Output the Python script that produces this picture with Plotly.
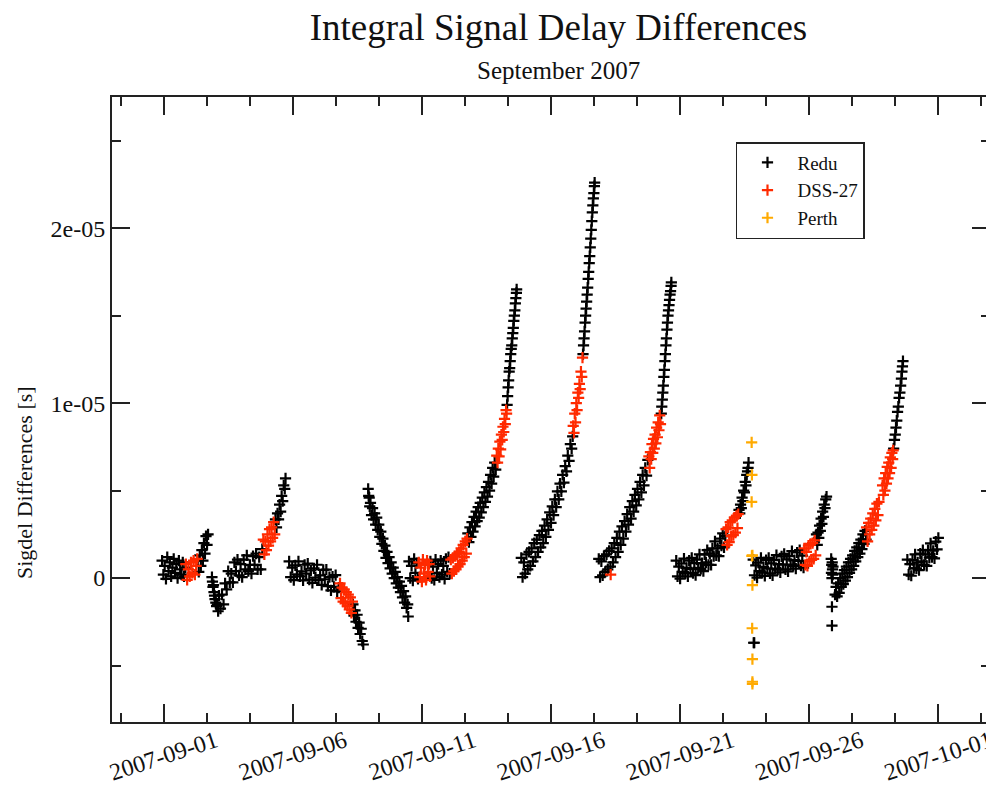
import pandas as pd
import plotly.graph_objects as go

# Time: days since 2007-09-01 00:00 ; values: signal delay difference in microseconds
redu_days = [
    -0.06, -0.01, 0.04, 0.09, 0.14, 0.19, 0.24, 0.29, 0.34, 0.39, 0.44, 0.49, 0.54, 0.59, 0.64, 0.69, 0.74, 0.79, 0.84,
    1.32, 1.36, 1.40, 1.44, 1.48, 1.52, 1.56, 1.60, 1.64, 1.68, 1.72,
    1.87, 1.89, 1.91, 1.93, 1.95, 1.97, 1.99, 2.02, 2.05, 2.08, 2.11,
    2.14, 2.20, 2.26, 2.32, 2.38, 2.44, 2.50, 2.56, 2.62, 2.68, 2.74, 2.80, 2.86, 2.92, 2.98, 3.04, 3.10, 3.16, 3.22, 3.28, 3.34, 3.40, 3.46, 3.52, 3.58, 3.64, 3.70, 3.76, 3.82,
    4.33, 4.37, 4.41, 4.45, 4.49, 4.53, 4.57, 4.61, 4.65, 4.69, 4.72,
    4.86, 4.92, 4.98, 5.04, 5.10, 5.16, 5.22, 5.28, 5.34, 5.40, 5.46, 5.52, 5.58, 5.64, 5.70, 5.76, 5.82, 5.88, 5.94, 6.00, 6.06, 6.12, 6.18, 6.24, 6.30, 6.36, 6.42, 6.48, 6.54, 6.60, 6.66, 6.72, 6.78,
    7.33, 7.37, 7.41, 7.45, 7.49, 7.53, 7.57, 7.61, 7.65, 7.69, 7.73,
    7.92, 7.94, 7.96, 7.98, 8.01, 8.05, 8.09, 8.13, 8.17, 8.21, 8.25, 8.29, 8.33, 8.37, 8.41, 8.45, 8.49, 8.53, 8.57, 8.61, 8.65, 8.69, 8.73, 8.77, 8.81, 8.85, 8.89, 8.93, 8.97, 9.01, 9.05, 9.09, 9.13, 9.17, 9.21, 9.25, 9.29, 9.33, 9.37, 9.41, 9.45, 9.47,
    9.50, 9.55, 9.60, 9.65, 9.70, 9.75, 9.80, 9.85,
    10.33, 10.38, 10.43, 10.48, 10.53, 10.58, 10.63, 10.68, 10.73, 10.78, 10.83, 10.88, 10.93, 10.98, 11.03, 11.08,
    11.78, 11.82, 11.86, 11.90, 11.94, 11.98, 12.02, 12.06, 12.10, 12.14, 12.18, 12.22, 12.26, 12.30, 12.34, 12.38, 12.42, 12.46, 12.50, 12.54, 12.58, 12.62, 12.66, 12.70, 12.74, 12.78, 12.82, 12.86,
    13.30, 13.32, 13.34, 13.36, 13.38, 13.40, 13.42, 13.44, 13.46, 13.48, 13.50, 13.52, 13.54, 13.56, 13.58, 13.60, 13.62, 13.64, 13.66, 13.67,
    13.85, 13.90, 13.95, 14.00, 14.05, 14.10, 14.15, 14.20, 14.25, 14.30, 14.35, 14.40, 14.45, 14.50, 14.55, 14.60, 14.65, 14.70, 14.75, 14.80, 14.85, 14.90, 14.95, 15.00, 15.05, 15.10, 15.15, 15.20, 15.25, 15.30, 15.35, 15.40, 15.45, 15.50, 15.55, 15.60, 15.65, 15.70, 15.75, 15.80, 15.84,
    16.24, 16.26, 16.28, 16.30, 16.32, 16.34, 16.36, 16.38, 16.40, 16.42, 16.44, 16.46, 16.48, 16.50, 16.52, 16.54, 16.56, 16.58, 16.60, 16.62, 16.64, 16.66, 16.68, 16.69,
    16.85, 16.90, 16.95, 17.00, 17.05, 17.10, 17.15, 17.20, 17.25, 17.30, 17.35, 17.40, 17.45, 17.50, 17.55, 17.60, 17.65, 17.70, 17.75, 17.80, 17.85, 17.90, 17.95, 18.00, 18.05, 18.10, 18.15, 18.20, 18.25, 18.30, 18.35, 18.40, 18.45, 18.50, 18.55, 18.60, 18.65, 18.70, 18.75,
    19.27, 19.29, 19.31, 19.33, 19.35, 19.37, 19.39, 19.41, 19.43, 19.45, 19.47, 19.49, 19.51, 19.53, 19.55, 19.57, 19.59, 19.61, 19.63, 19.65, 19.66,
    19.85, 19.90, 19.95, 20.00, 20.05, 20.10, 20.15, 20.20, 20.25, 20.30, 20.35, 20.40, 20.45, 20.50, 20.55, 20.60, 20.65, 20.70, 20.75, 20.80, 20.85, 20.90, 20.95, 21.00, 21.05, 21.10, 21.15, 21.20, 21.25, 21.30, 21.35, 21.40, 21.45, 21.50, 21.55, 21.60, 21.65, 21.70, 21.75,
    22.28, 22.31, 22.34, 22.37, 22.40, 22.43, 22.46, 22.49, 22.52, 22.55, 22.58, 22.61, 22.63, 22.65,
    22.85, 22.87,
    22.83, 22.88, 22.93, 22.98, 23.03, 23.08, 23.13, 23.18, 23.23, 23.28, 23.33, 23.38, 23.43, 23.48, 23.53, 23.58, 23.63, 23.68, 23.73, 23.78, 23.83, 23.88, 23.93, 23.98, 24.03, 24.08, 24.13, 24.18, 24.23, 24.28, 24.33, 24.38, 24.43, 24.48, 24.53, 24.58, 24.63, 24.68, 24.73, 24.78,
    25.28, 25.31, 25.34, 25.37, 25.40, 25.43, 25.46, 25.49, 25.52, 25.55, 25.58, 25.61, 25.64, 25.67,
    25.85, 25.86, 25.87, 25.88, 25.89, 25.90, 25.91, 25.92, 25.88, 25.88,
    26.00, 26.04, 26.08, 26.12, 26.16, 26.20, 26.24, 26.28, 26.32, 26.36, 26.40, 26.44, 26.48, 26.52, 26.56, 26.60, 26.64, 26.68, 26.72, 26.76, 26.80, 26.84, 26.88, 26.92, 26.96, 27.00, 27.04, 27.08, 27.12, 27.16, 27.20,
    28.27, 28.30, 28.33, 28.36, 28.39, 28.42, 28.45, 28.48, 28.51, 28.54, 28.57, 28.59, 28.61, 28.63,
    28.80, 28.85, 28.90, 28.95, 29.00, 29.05, 29.10, 29.15, 29.20, 29.25, 29.30, 29.35, 29.40, 29.45, 29.50, 29.55, 29.60, 29.65, 29.70, 29.75, 29.80, 29.85, 29.90, 29.95, 30.00,
]
redu_us = [
    1.0, 0.2, 0.7, -0.05, 1.2, 0.4, 0.9, 0.1, 0.6, 1.1, 0.3, 0.8, 0.0, 1.0, 0.5, 0.2, 0.9, 0.1, 0.6,
    1.0, 0.35, 1.3, 0.7, 1.6, 1.0, 2.0, 1.4, 2.4, 1.9, 2.5,
    0.05, -0.2, -0.5, -0.4, -0.8, -1.0, -1.2, -1.4, -1.6, -1.5, -1.9,
    -1.0, -1.75, -0.95, -1.5, -0.3, -0.65, 0.4, -0.25, 0.25, -0.25, 0.9, 0.4, 1.05, 0.15, 0.8, 0.05, 1.05, 0.5, 1.3, 0.4, 0.75, 0.25, 1.25, 0.75, 1.4, 0.5, 1.2, 0.5, 1.65,
    3.35, 2.9, 3.7, 3.35, 4.2, 3.8, 4.7, 4.4, 5.3, 5.1, 5.7,
    0.95, 0.05, 0.6, -0.12, 0.72, 0.21, 0.95, 0.09, 0.38, -0.13, 0.76, 0.25, 0.83, -0.09, 0.44, -0.28, 0.55, 0.03, 0.76, -0.11, 0.15, -0.39, 0.47, -0.07, 0.48, -0.46, 0.05, -0.7, 0.08, -0.5, 0.17, -0.76, -0.55,
    -1.5, -2.15, -1.85, -2.5, -2.1, -2.85, -2.55, -3.2, -2.9, -3.6, -3.8,
    5.1, 4.7, 4.6, 4.1, 4.3, 3.6, 4.0, 3.35, 3.7, 3.05, 3.45, 2.75, 3.05, 2.35, 2.65, 1.95, 2.25, 1.55, 1.85, 1.15, 1.5, 0.85, 1.2, 0.55, 0.9, 0.25, 0.6, 0.0, 0.35, -0.3, 0.05, -0.55, -0.2, -0.8, -0.45, -1.1, -0.75, -1.4, -1.05, -1.7, -1.5, -2.2,
    0.95, 0.0, 0.7, -0.15, 1.1, 0.3, 0.85, -0.05,
    0.95, 0.0, 0.65, -0.1, 1.05, 0.3, 0.8, 0.05, 1.0, 0.2, 0.7, -0.05, 1.1, 0.35, 1.2, 0.25,
    2.55, 2.05, 2.9, 2.35, 3.2, 2.65, 3.5, 2.95, 3.8, 3.25, 4.05, 3.45, 4.3, 3.75, 4.6, 4.05, 4.9, 4.35, 5.2, 4.65, 5.5, 5.0, 5.9, 5.4, 6.3, 5.8, 6.6, 6.2,
    9.9, 10.4, 10.9, 11.3, 11.8, 12.0, 12.4, 12.8, 13.1, 13.3, 13.7, 14.0, 14.3, 14.7, 15.0, 15.3, 15.7, 16.0, 16.3, 16.5,
    1.15, 0.05, 0.9, 0.25, 1.35, 0.5, 1.5, 0.7, 1.7, 0.95, 2.0, 1.2, 2.2, 1.5, 2.45, 1.75, 2.7, 2.0, 3.0, 2.35, 3.35, 2.75, 3.75, 3.15, 4.1, 3.6, 4.5, 4.05, 4.95, 4.5, 5.4, 4.95, 5.9, 5.45, 6.4, 6.1, 7.0, 6.7, 7.65, 7.4, 8.1,
    12.8, 13.3, 13.7, 14.1, 14.6, 15.0, 15.4, 15.8, 16.2, 16.6, 17.1, 17.5, 18.0, 18.4, 18.9, 19.4, 19.9, 20.4, 20.9, 21.3, 21.7, 22.0, 22.4, 22.6,
    1.1, 0.05, 0.95, 0.15, 1.25, 0.35, 1.35, 0.5, 1.55, 0.65, 1.7, 0.9, 2.0, 1.2, 2.3, 1.5, 2.65, 1.9, 2.95, 2.25, 3.25, 2.65, 3.65, 3.05, 4.05, 3.4, 4.4, 3.8, 4.75, 4.15, 5.1, 4.5, 5.5, 4.9, 5.9, 5.3, 6.3, 5.85, 6.75,
    9.4, 9.8, 10.2, 10.6, 11.0, 11.5, 11.9, 12.4, 12.8, 13.3, 13.7, 14.2, 14.6, 15.0, 15.3, 15.6, 15.9, 16.2, 16.4, 16.7, 16.9,
    1.0, 0.1, 0.65, -0.03, 0.83, 0.35, 1.11, 0.27, 0.58, 0.09, 1.0, 0.52, 1.15, 0.28, 0.85, 0.17, 1.05, 0.58, 1.35, 0.52, 0.85, 0.4, 1.35, 0.9, 1.6, 0.75, 1.4, 0.75, 1.7, 1.25, 2.1, 1.3, 1.7, 1.25, 2.25, 1.85, 2.55, 1.75, 2.4,
    3.9, 3.7, 4.2, 4.0, 4.6, 4.4, 5.0, 4.9, 5.5, 5.3, 5.9, 6.1, 6.3, 6.6,
    -3.7, -3.7,
    1.05, 0.16, 0.72, 0.02, 0.88, 0.39, 1.15, 0.31, 0.62, 0.12, 1.03, 0.54, 1.15, 0.27, 0.84, 0.15, 1.02, 0.54, 1.31, 0.48, 0.8, 0.32, 1.24, 0.76, 1.38, 0.5, 1.07, 0.38, 1.25, 0.77, 1.54, 0.7, 1.02, 0.54, 1.46, 0.98, 1.6, 0.71, 1.28, 0.6,
    2.5, 1.9, 2.6, 2.3, 3.0, 2.7, 3.4, 3.1, 3.8, 3.5, 4.2, 4.0, 4.5, 4.65,
    1.1, 0.3, 0.75, 0.0, 0.9, 0.5, 0.2, 0.65, -1.64, -2.72,
    -0.95, -0.5, -1.05, -0.3, -0.85, 0.0, -0.5, 0.25, -0.35, 0.45, -0.15, 0.65, 0.05, 0.9, 0.3, 1.1, 0.5, 1.3, 0.7, 1.55, 0.95, 1.75, 1.2, 2.0, 1.4, 2.2, 1.65, 2.5, 1.95, 2.7, 2.2,
    7.4, 7.9, 8.2, 8.6, 9.0, 9.5, 9.8, 10.3, 10.6, 11.0, 11.4, 11.8, 12.1, 12.4,
    1.05, 0.2, 0.79, 0.13, 1.02, 0.56, 1.35, 0.55, 0.9, 0.45, 1.4, 0.95, 1.6, 0.75, 1.35, 0.7, 1.6, 1.17, 1.98, 1.2, 1.56, 1.12, 2.08, 1.64, 2.3,
]

dss27_days = [
    0.86, 0.91, 0.96, 1.01, 1.06, 1.11, 1.16, 1.21, 1.26, 1.30,
    3.86, 3.90, 3.94, 3.98, 4.02, 4.06, 4.10, 4.14, 4.18, 4.22, 4.26, 4.30,
    6.83, 6.87, 6.91, 6.95, 6.99, 7.03, 7.07, 7.11, 7.15, 7.19, 7.23, 7.27, 7.31,
    9.88, 9.92, 9.96, 10.00, 10.04, 10.08, 10.12, 10.16, 10.20, 10.24, 10.28, 10.31,
    11.12, 11.16, 11.20, 11.24, 11.28, 11.32, 11.36, 11.40, 11.44, 11.48, 11.52, 11.56, 11.60, 11.64, 11.68, 11.72, 11.75,
    12.90, 12.93, 12.96, 12.99, 13.02, 13.05, 13.08, 13.11, 13.14, 13.17, 13.20, 13.23, 13.26, 13.28,
    15.86, 15.89, 15.92, 15.95, 15.98, 16.01, 16.04, 16.07, 16.10, 16.13, 16.16, 16.19, 16.22,
    17.31,
    18.79, 18.82, 18.85, 18.88, 18.91, 18.94, 18.97, 19.00, 19.03, 19.06, 19.09, 19.12, 19.15, 19.18, 19.21, 19.24,
    21.78, 21.82, 21.86, 21.90, 21.94, 21.98, 22.02, 22.06, 22.10, 22.14, 22.18, 22.22, 22.25,
    24.81, 24.85, 24.89, 24.93, 24.97, 25.01, 25.05, 25.09, 25.13, 25.17, 25.21, 25.25,
    27.22, 27.26, 27.30, 27.34, 27.38, 27.42, 27.46, 27.50, 27.54, 27.58, 27.62, 27.66, 27.70,
    27.84, 27.87, 27.90, 27.93, 27.96, 27.99, 28.02, 28.05, 28.08, 28.11, 28.14, 28.17, 28.20, 28.23, 28.25,
]
dss27_us = [
    0.8, -0.1, 0.5, 0.1, 0.9, 0.3, 1.0, 0.2, 0.7, 1.1,
    2.2, 1.35, 2.1, 1.6, 2.5, 1.85, 2.8, 2.1, 2.9, 2.3, 3.2, 2.5,
    -0.3, -1.15, -0.55, -1.35, -0.65, -1.45, -0.8, -1.6, -0.95, -1.8, -1.1, -2.0, -1.35,
    0.9, 0.05, 0.6, -0.2, 1.05, 0.25, 0.75, -0.1, 1.0, 0.35, 0.8, 0.1,
    1.05, 0.25, 1.15, 0.4, 1.25, 0.5, 1.35, 0.65, 1.5, 0.8, 1.7, 1.0, 1.9, 1.2, 2.1, 1.4, 2.25,
    7.0, 6.6, 7.4, 6.95, 7.8, 7.35, 8.2, 7.9, 8.65, 8.35, 9.1, 8.8, 9.6, 9.4,
    8.7, 8.3, 9.4, 8.9, 10.0, 9.6, 10.6, 10.3, 11.1, 10.8, 11.8, 11.5, 12.6,
    0.2,
    6.95, 6.3, 7.2, 6.8, 7.65, 7.15, 7.95, 7.4, 8.2, 7.7, 8.6, 8.05, 8.9, 8.45, 9.3, 8.8,
    2.8, 1.9, 2.9, 2.05, 3.2, 2.4, 3.3, 2.45, 3.45, 2.6, 3.55, 2.85, 3.65,
    1.7, 0.75, 1.5, 0.7, 1.85, 0.95, 1.95, 1.05, 2.0, 1.1, 2.15, 1.3,
    2.9, 2.1, 3.15, 2.5, 3.4, 2.75, 3.7, 3.0, 3.95, 3.3, 4.25, 3.6, 4.35,
    5.3, 4.75, 5.7, 5.0, 6.0, 5.4, 6.35, 5.7, 6.6, 6.0, 6.9, 6.3, 7.15, 6.8, 7.3,
]

perth_days = [22.77, 22.78, 22.77, 22.78, 22.80, 22.80, 22.79, 22.80, 22.80, 22.80]
perth_us = [7.75, 5.9, 4.35, 1.27, 1.3, -0.4, -2.87, -4.63, -5.93, -6.05]

assert len(redu_days) == len(redu_us), (len(redu_days), len(redu_us))
assert len(dss27_days) == len(dss27_us), (len(dss27_days), len(dss27_us))
assert len(perth_days) == len(perth_us)

base = pd.Timestamp("2007-09-01")


def to_time(days):
    return [base + pd.Timedelta(days=d) for d in days]


def to_sec(us):
    return [v * 1e-6 for v in us]


FONT = "Liberation Serif, Times New Roman, serif"
AX = "#222222"
TXT = "#111111"

# the page adds an 8 px body margin, so the figure is drawn 8 px smaller
W, H = 986, 778

fig = go.Figure()
series = [
    ("Redu", redu_days, redu_us, "#000000"),
    ("DSS-27", dss27_days, dss27_us, "#ff2a00"),
    ("Perth", perth_days, perth_us, "#ffaa00"),
]
for name, d, v, col in series:
    fig.add_trace(go.Scatter(
        x=to_time(d), y=to_sec(v), mode="markers", name=name,
        marker=dict(symbol="cross-thin", size=8, color=col,
                    line=dict(width=2.2, color=col)),
    ))

fig.update_layout(
    width=W, height=H,
    paper_bgcolor="white", plot_bgcolor="white",
    margin=dict(l=104, r=4, t=89, b=64),
    font=dict(family=FONT, size=22, color=TXT),
    title=dict(text="Integral Signal Delay Differences",
               font=dict(family=FONT, size=37, color=TXT),
               x=0.5085, xref="paper", xanchor="center",
               y=1 - 19 / H, yref="container", yanchor="middle"),
    showlegend=True,
    legend=dict(x=0.7107, y=0.928, xanchor="left", yanchor="top",
                bgcolor="white", bordercolor="#222222", borderwidth=1.5,
                font=dict(family=FONT, size=19, color=TXT),
                itemwidth=50, tracegroupgap=0, entrywidth=100),
    annotations=[
        dict(text="September 2007", xref="paper", yref="paper",
             x=0.5085, y=(722 - 70) / 625, xanchor="center", yanchor="middle",
             showarrow=False, font=dict(family=FONT, size=25, color=TXT)),
        dict(text="Sigdel Differences [s]", xref="paper", yref="paper",
             x=(25 - 112) / 878, y=(722 - 483) / 625, xanchor="center", yanchor="middle",
             textangle=-90, showarrow=False,
             font=dict(family=FONT, size=22, color=TXT)),
    ],
)

fig.update_xaxes(
    type="date",
    range=["2007-08-30", "2007-10-03"],
    tickmode="linear", tick0="2007-09-01", dtick=5 * 86400000,
    tickformat="%Y-%m-%d", tickangle=-18,
    ticks="inside", ticklen=18, tickwidth=1.5, tickcolor=AX,
    minor=dict(tickmode="linear", tick0="2007-09-01", dtick=144000000,
               ticks="inside", ticklen=9, tickwidth=1.5, tickcolor=AX),
    showline=True, linecolor=AX, linewidth=2, mirror="ticks",
    showgrid=False, zeroline=False, automargin=False,
    ticklabelshift=52, ticklabelstandoff=-6, ticklabeloverflow="allow",
    tickfont=dict(family=FONT, size=24, color=TXT),
)
fig.update_yaxes(
    range=[-8.23e-6, 2.75e-5],
    tickmode="array", tickvals=[0, 1e-5, 2e-5], ticktext=["0", "1e-05", "2e-05"],
    ticks="inside", ticklen=18, tickwidth=1.5, tickcolor=AX,
    minor=dict(tickmode="linear", tick0=0, dtick=5e-6,
               ticks="inside", ticklen=9, tickwidth=1.5, tickcolor=AX),
    showline=True, linecolor=AX, linewidth=2, mirror="ticks",
    showgrid=False, zeroline=False, automargin=False,
    ticklabelstandoff=0,
    tickfont=dict(family=FONT, size=24, color=TXT),
)

fig.write_html("out.html")
